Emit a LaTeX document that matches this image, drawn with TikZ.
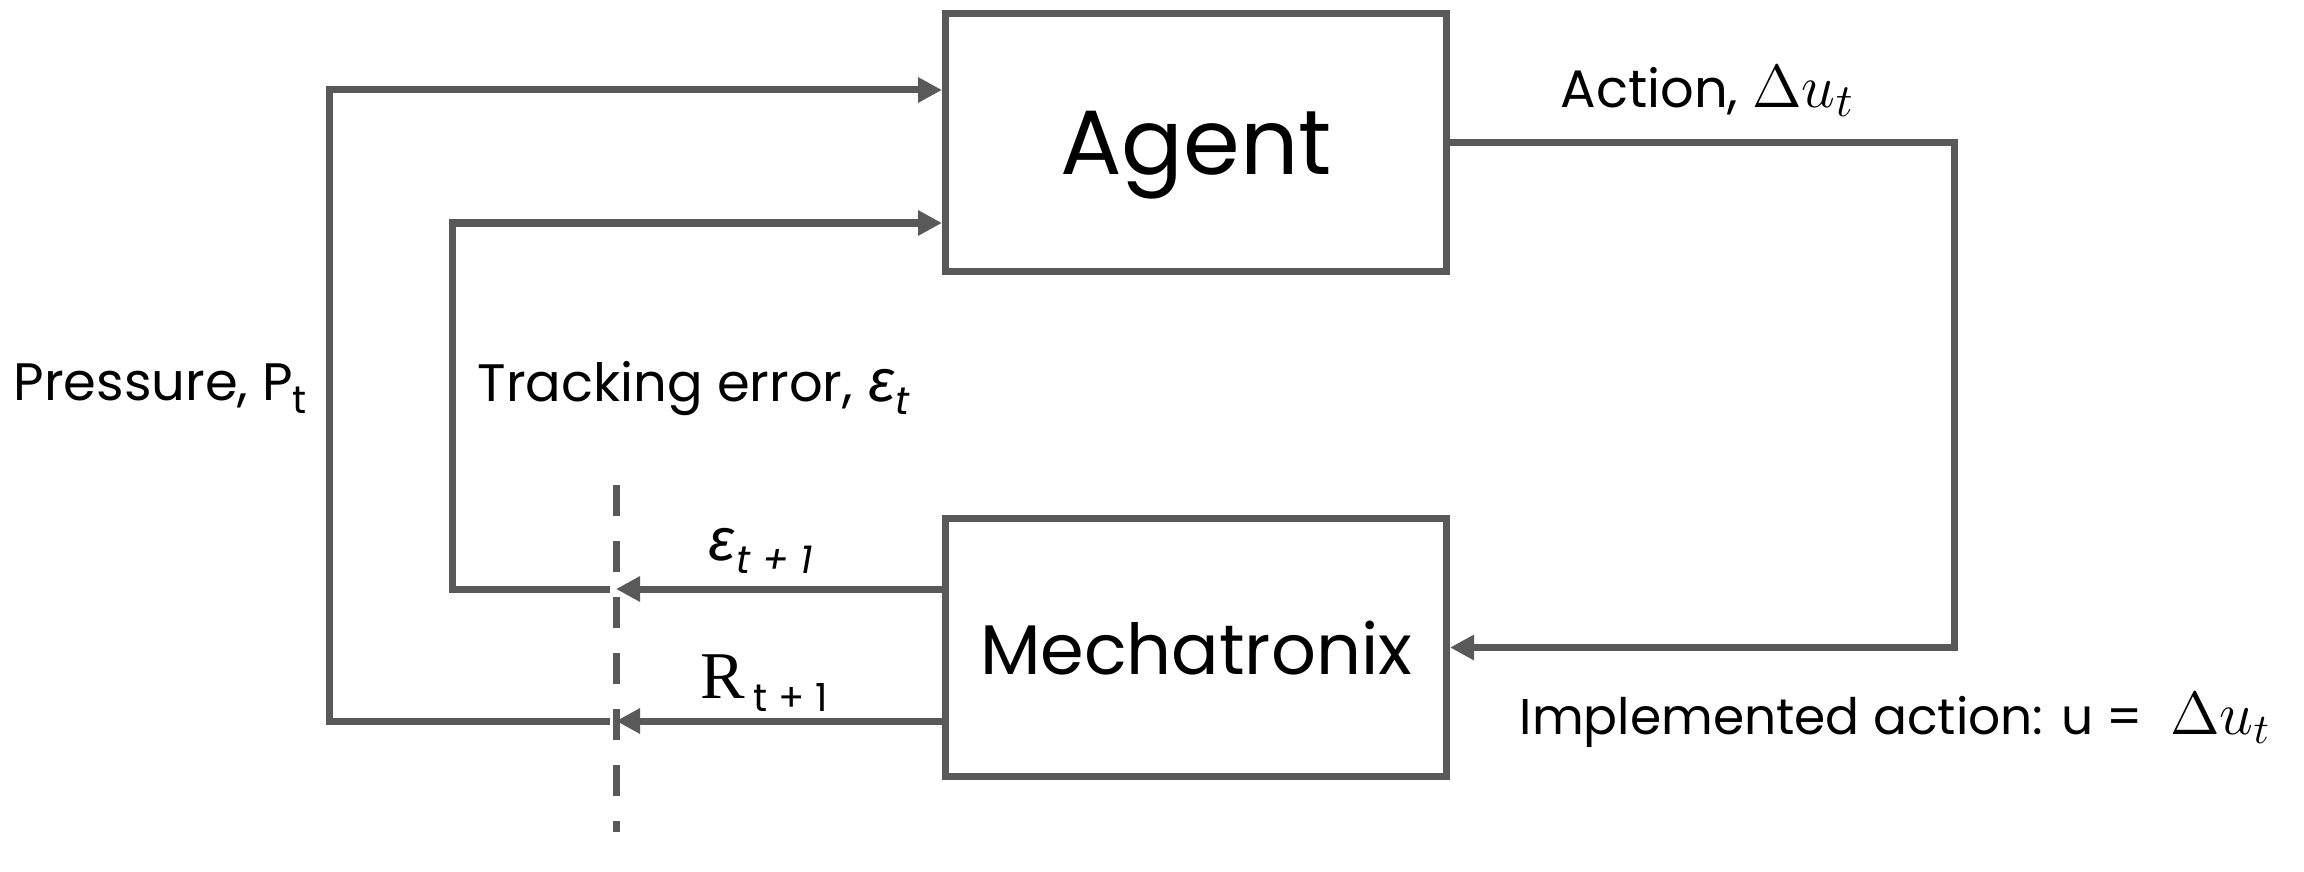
\documentclass[tikz,border=0pt]{standalone}
\usepackage{fontspec}
\setmainfont{Poppins}
\newfontfamily\serifR{Liberation Serif}
\newfontfamily\greekit[ItalicFont={Fira Sans Italic}]{Fira Sans}
\usetikzlibrary{arrows.meta}
\definecolor{linegray}{RGB}{89,89,89}
\newcommand{\lowsub}[1]{\raisebox{-0.45ex}{\fontsize{11pt}{13pt}\selectfont #1}}
\newcommand{\eps}{{\greekit\itshape\fontsize{17pt}{20pt}\selectfont ε}}
\newcommand{\du}{\scalebox{1.2}{$\Delta u_t$}}
\tikzset{
  box/.style={draw=linegray, line width=0.07cm, minimum width=5.01cm, minimum height=2.58cm, inner sep=0pt, text depth=0pt},
  wire/.style={draw=linegray, line width=0.07cm},
  arr/.style={wire, -{Triangle[length=0.24cm,width=0.24cm]}},
  lbl/.style={font=\fontsize{15pt}{18pt}\selectfont, inner sep=0pt}
}
\begin{document}
\begin{tikzpicture}
  \useasboundingbox (0,0) rectangle (23.04,-8.72);
  % blocks
  \node[box, font=\fontsize{26pt}{30pt}\selectfont] (agent) at (11.96,-1.425) {Agent};
  \node[box, font=\fontsize{20pt}{24pt}\selectfont] (mech) at (11.96,-6.475) {Mechatronix};
  % corners of the loops
  \coordinate (pt) at (3.29,-0.90);
  \coordinate (pb) at (3.29,-7.21);
  \coordinate (et) at (4.52,-2.23);
  \coordinate (eb) at (4.52,-5.89);
  \coordinate (ab) at (19.54,-6.475);
  \coordinate (dt) at (6.16,-4.85);
  \coordinate (db) at (6.16,-8.32);
  \coordinate (de) at (dt |- eb);
  \coordinate (dr) at (dt |- pb);
  % time step cut
  \draw[wire, dash pattern=on 0.31cm off 0.25cm] (dt) -- (db);
  % feedback
  \draw[arr] (mech.west |- eb) -- (de);
  \draw[arr] (mech.west |- pb) -- (dr);
  \draw[arr] ([xshift=-0.06cm]de) -- (eb) -- (et) -- (agent.west |- et);
  \draw[arr] ([xshift=-0.06cm]dr) -- (pb) -- (pt) -- (agent.west |- pt);
  % action
  \draw[arr] (agent.east) -| (ab) -- (mech.east);
  % labels
  \node[lbl, anchor=west] (press) at (0.13,-3.89) {Pressure, P\lowsub{t}};
  \node[lbl, anchor=west] (track) at (4.77,-3.89) {Tracking error, \eps\lowsub{\itshape t}};
  \node[lbl] (enext) at (7.60,-5.51) {\eps\lowsub{\itshape t + 1}};
  \node[lbl] (rnext) at (7.64,-6.83) {{\serifR\fontsize{19pt}{22pt}\selectfont R}\,\lowsub{t + 1}};
  \node[lbl, anchor=west] (act) at (15.60,-0.91) {Action, \du};
  \node[lbl, anchor=west, font=\fontsize{14.3pt}{17pt}\selectfont] (impl) at (15.19,-7.20) {Implemented action: u = \ \du};
\end{tikzpicture}
\end{document}
